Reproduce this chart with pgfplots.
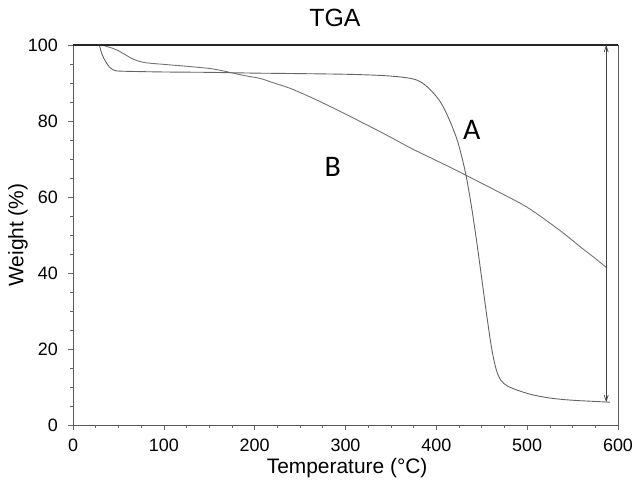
\documentclass[border=0pt]{standalone}
\usepackage{fontspec}
\setmainfont{Liberation Sans}
\newfontfamily\calfont{Carlito}
\usepackage{pgfplots}
\pgfplotsset{compat=1.18}
\usetikzlibrary{arrows.meta}

% curve A: sharp decomposition near 440 C
\pgfplotstableread{
T W
29 100
31.6 97.8
34 96.5
37 95.2
41 94.0
46 93.3
55 93.1
100 92.9
150 92.8
200 92.6
239 92.5
300 92.3
338 92.0
360 91.6
374 91.1
382 90.4
390 89.0
397 87.3
404 85.2
410 82.6
417 78.8
424 74.2
432 66.5
438 58.5
444 49.0
450 38.5
456 28.0
461 20.0
466 14.5
471 11.8
478 10.3
490 9.1
505 8.0
522 7.2
540 6.7
558 6.4
575 6.2
591 6.0
}\curveA

% curve B: gradual loss
\pgfplotstableread{
T W
29 100
36 99.7
44 99.1
50 98.5
55 97.8
60 97.1
66 96.3
73 95.7
81 95.3
95 95.0
110 94.7
130 94.3
151 93.8
165 93.2
176 92.6
190 91.9
206 91.2
220 90.1
239 88.6
264 86.0
285 83.6
302 81.6
320 79.4
338 77.2
356 74.9
374 72.6
393 70.4
412 68.2
432 65.8
463 62.0
500 57.3
536 51.2
560 46.6
573 44.2
588 41.3
}\curveB

\begin{document}
\begin{tikzpicture}
\begin{axis}[
  width=545bp, height=380bp, scale only axis,
  xmin=0, xmax=600, ymin=0, ymax=100,
  xtick={0,100,...,600}, ytick={0,20,...,100},
  minor x tick num=3, minor y tick num=3,
  tick align=outside, xtick pos=bottom, ytick pos=left,
  major tick length=5bp, minor tick length=3bp,
  tick style={black!60, line width=0.6bp},
  axis line style={black!65, line width=0.8bp},
  /pgf/number format/assume math mode=true,
  every tick label/.append style={font=\fontsize{18}{18}\selectfont},
  xticklabel style={inner sep=0pt, anchor=north, yshift=-9bp},
  yticklabel style={inner sep=0pt, anchor=east, xshift=-10bp},
  title={TGA},
  title style={font=\fontsize{25}{25}\selectfont, inner sep=0pt,
    at={(axis description cs:0.4807,1.0553)}, anchor=center},
  xlabel={Temperature (°C)},
  xlabel style={font=\fontsize{21}{21}\selectfont, inner sep=0pt,
    at={(axis description cs:0.503,-0.0868)}, anchor=north},
  ylabel={Weight (\%)},
  ylabel style={font=\fontsize{21}{21}\selectfont, inner sep=0pt,
    at={(axis description cs:-0.1009,0.5)}, anchor=center},
  clip=false,
]
\addplot[color={rgb,255:red,115;green,115;blue,115}, line width=0.9bp, smooth, tension=0.5] table[x=T,y=W] {\curveB};
\addplot[color={rgb,255:red,100;green,100;blue,100}, line width=0.9bp, smooth, tension=0.5] table[x=T,y=W] {\curveA};

\draw[black!85, line width=1.6bp] (rel axis cs:0,1) -- (rel axis cs:1,1);
\draw[black!75, line width=0.7bp,
  {Straight Barb[length=6bp,width=4bp]}-{Straight Barb[length=6bp,width=4bp]}]
  (axis cs:587,6.0) -- (axis cs:587,100);

\node[font=\calfont\fontsize{30}{30}\selectfont] at (axis cs:439,77.6) {A};
\node[font=\calfont\fontsize{30}{30}\selectfont] at (axis cs:286,67.8) {B};

\coordinate (bl) at (rel axis cs:-0.13394,-0.15);
\coordinate (tr) at (rel axis cs:1.03119,1.11842);
\end{axis}
\pgfresetboundingbox
\path[use as bounding box] (bl) rectangle (tr);
\end{tikzpicture}
\end{document}
